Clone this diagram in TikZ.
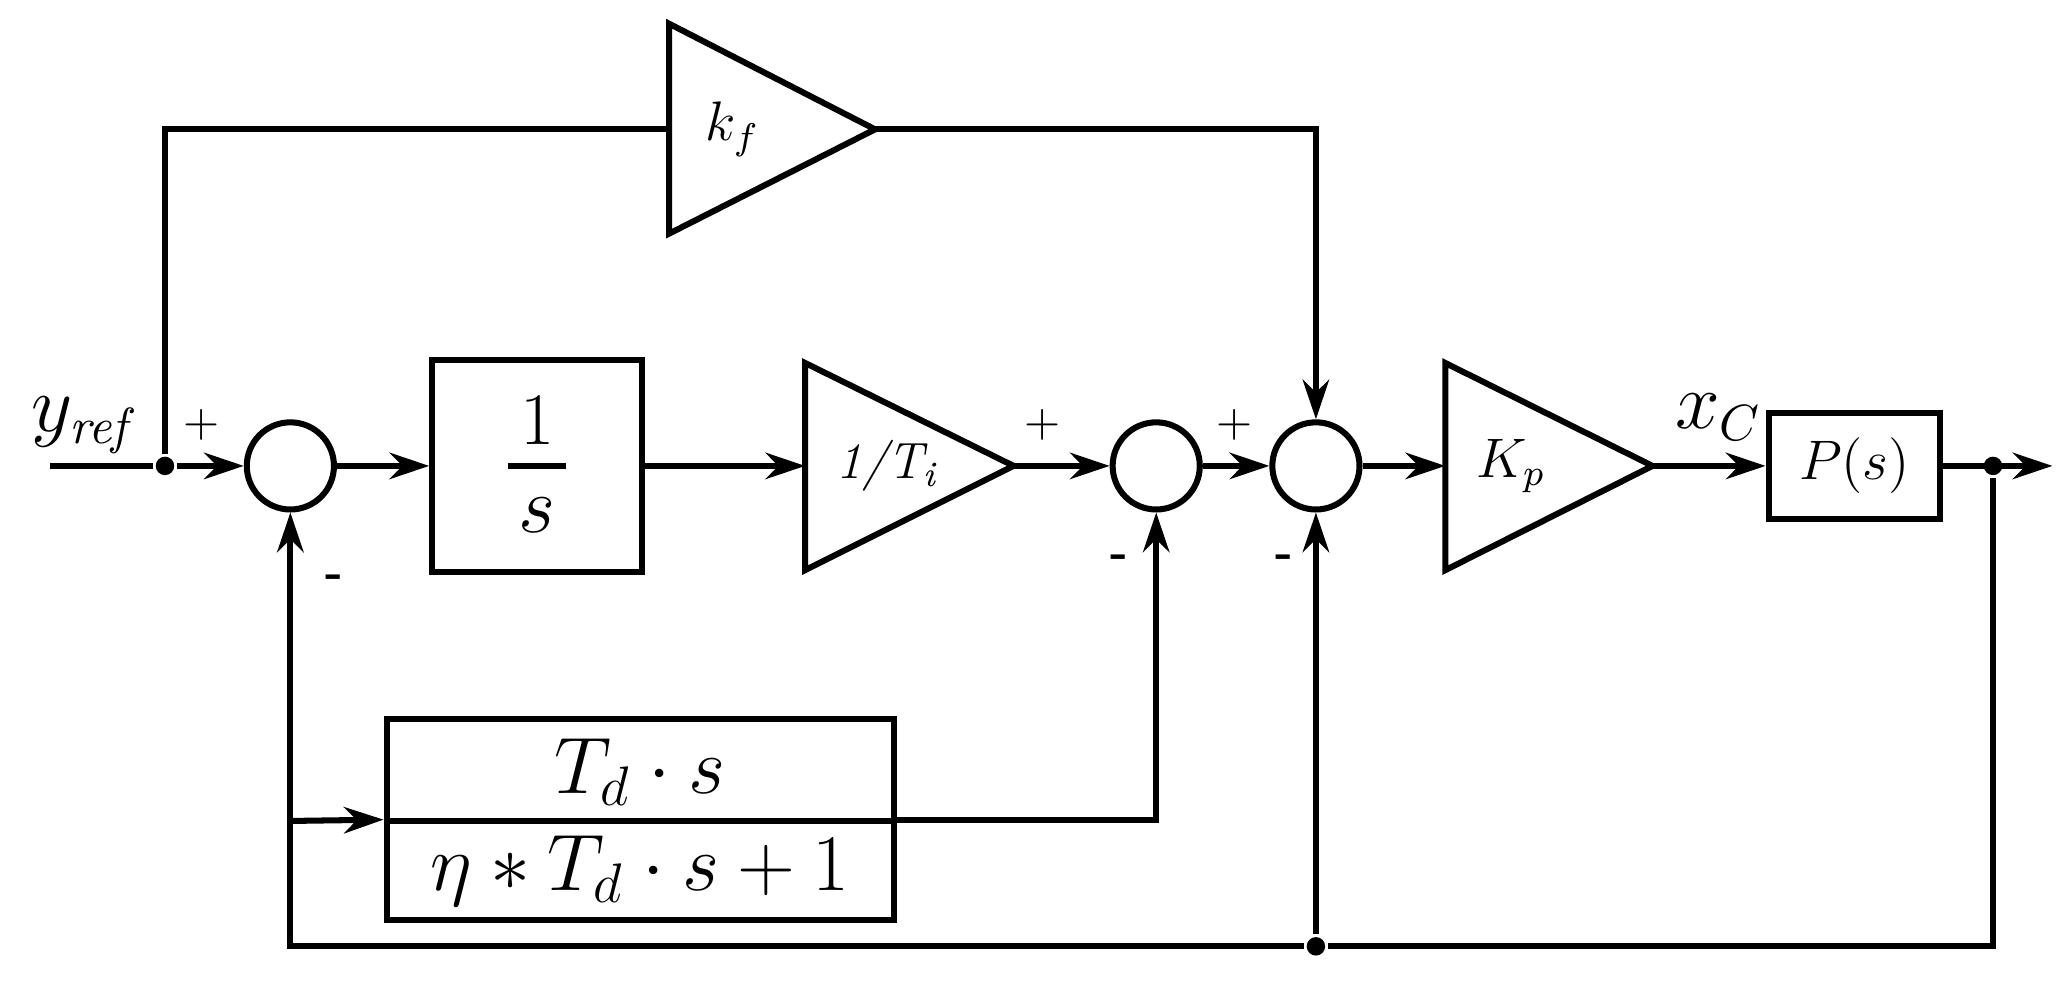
\documentclass[tikz,border=0pt]{standalone}
\usetikzlibrary{arrows.meta}
\begin{document}
\begin{tikzpicture}[x=0.01cm,y=-0.01cm,line width=1.3pt,
  sum/.style={circle,draw,minimum size=0.66cm,inner sep=0pt},
  blk/.style={draw,inner sep=0pt},
  arr/.style={-{Stealth[length=0.3cm,width=0.2cm]}},
  dot/.style={circle,fill,inner sep=0pt,minimum size=0.14cm},
  lbl/.style={font=\normalsize}]
\useasboundingbox (0,0) rectangle (1560,752);
% sums
\node[sum] (s1) at (220,353) {};
\node[sum] (s2) at (876,353) {};
\node[sum] (s3) at (997,353) {};
% blocks
\node[blk,minimum width=1.59cm,minimum height=1.6cm] (integ) at (407,353) {};
\node at (407,318) {\fontsize{16}{18}\selectfont 1};
\draw (385,353) -- (429,353);
\node at (407,390) {\fontsize{16}{18}\selectfont $s$};
\draw (610,275) -- (768,353) -- (610,432) -- cycle;
\coordinate (tiL) at (610,353); \coordinate (tiR) at (768,353);
\node at (672,353) {\fontsize{11}{13}\selectfont\itshape 1/T\textsubscript{i}};
\draw (507,18) -- (663,98) -- (507,177) -- cycle;
\coordinate (kfL) at (507,98); \coordinate (kfR) at (663,98);
\node at (555,98) {\fontsize{12}{14}\selectfont $k_f$};
\draw (1095,275) -- (1252,353) -- (1095,432) -- cycle;
\coordinate (kpL) at (1095,353); \coordinate (kpR) at (1252,353);
\node at (1145,353) {\fontsize{12}{14}\selectfont $K_p$};
\node[blk,minimum width=1.3cm,minimum height=0.8cm] (P) at (1405,353) {\fontsize{12}{14}\selectfont $P(s)$};
\node[blk,minimum width=3.84cm,minimum height=1.52cm] (D) at (485,621) {};
\draw (293,622) -- (677,622);
\node at (485,585) {\fontsize{18}{20}\selectfont $T_d\cdot s$};
\node at (485,660) {\fontsize{18}{20}\selectfont $\eta * T_d\cdot s+1$};
% coordinates
\coordinate (in) at (38,353);
\node[dot] (j1) at (125,353) {};
\node[dot] (j2) at (1510,353) {};
\node[dot] (j3) at (997,717) {};
\coordinate (out) at (1555,353);
% connections
\draw (in) -- (j1);
\draw[arr] (j1) -- (s1);
\draw (j1) |- (kfL);
\draw[arr] (kfR) -| (s3);
\draw[arr] (s1) -- (integ);
\draw[arr] (integ) -- (tiL);
\draw[arr] (tiR) -- (s2);
\draw[arr] (s2) -- (s3);
\draw[arr] (s3) -- (kpL);
\draw[arr] (kpR) -- (P);
\draw[arr] (P) -- (out);
\draw (j2) |- (j3);
\draw[arr] (j3) -| (s1);
\draw[arr] (j3) -- (s3);
\draw[arr] (220,622) -- (D.west);
\draw[arr] (D.east) -| (s2);
% labels
\node at (65,322) {\fontsize{16}{18}\selectfont $y_{\mathit{ref}}$};
\node[lbl] at (153,322) {+};
\node[lbl] at (790,322) {+};
\node[lbl] at (935,322) {+};
\node[lbl] at (253,440) {\textbf{-}};
\node[lbl] at (848,425) {\textbf{-}};
\node[lbl] at (973,425) {\textbf{-}};
\node at (1302,316) {\fontsize{16}{18}\selectfont $x_C$};
\end{tikzpicture}
\end{document}
